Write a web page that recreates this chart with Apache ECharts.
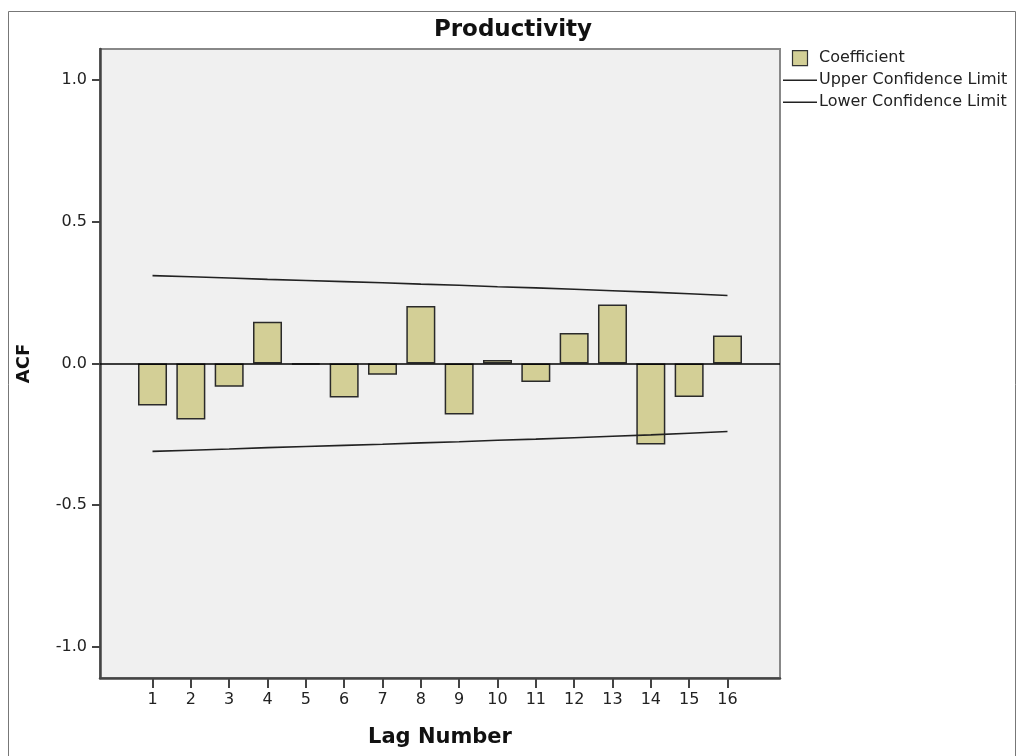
<!DOCTYPE html>
<html>
<head>
<meta charset="utf-8">
<title>Productivity ACF</title>
<script src="https://cdn.jsdelivr.net/npm/echarts@6/dist/echarts.min.js"></script>
<style>
  html, body { margin: 0; padding: 0; background: #fff; }
  #chart { width: 1026px; height: 756px; }
</style>
</head>
<body>
<div id="chart"></div>
<script>
  // lags and values
  var lags = [1, 2, 3, 4, 5, 6, 7, 8, 9, 10, 11, 12, 13, 14, 15, 16]
  var coefficient = [-0.148, -0.198, -0.082, 0.147, -0.004, -0.120, -0.040, 0.203,
                     -0.180, 0.012, -0.065, 0.108, 0.208, -0.286, -0.118, 0.099]
  var upperLimit = [0.310, 0.306, 0.302, 0.297, 0.293, 0.289, 0.285, 0.280,
                    0.276, 0.271, 0.267, 0.262, 0.257, 0.252, 0.246, 0.240]
  var lowerLimit = [-0.310, -0.306, -0.302, -0.297, -0.293, -0.289, -0.285, -0.280,
                    -0.276, -0.271, -0.267, -0.262, -0.257, -0.252, -0.246, -0.240]
  var yTicks = [-1, -0.5, 0, 0.5, 1]

  function pairs(vals) {
    return lags.map(function (k, i) { return [k, vals[i]] })
  }

  var chart = echarts.init(document.getElementById('chart'))
  var font = 'DejaVu Sans, Liberation Sans, Arial, sans-serif'

  var option = {
    backgroundColor: '#fff',
    animation: false,
    textStyle: { fontFamily: font, color: '#222' },
    title: {
      text: 'Productivity',
      left: 'center',
      top: 14,
      textStyle: { fontFamily: font, fontSize: 23, fontWeight: 'bold', color: '#111' }
    },
    // outer frame
    graphic: [{
      type: 'rect',
      left: 6, top: 9,
      shape: { width: 1007, height: 760 },
      style: { fill: 'none', stroke: '#777', lineWidth: 1 },
      silent: true
    }],
    legend: {
      orient: 'vertical',
      left: 783,
      top: 50,
      padding: 0,
      itemWidth: 34,
      itemHeight: 15,
      itemGap: 6,
      textStyle: { fontFamily: font, fontSize: 16, color: '#222', padding: [0, 0, 0, -3] },
      data: [
        { name: 'Coefficient', icon: 'path://M0,0H10V10H0Z',
          itemStyle: { color: '#d3cf96', borderColor: '#333', borderWidth: 1.2 } },
        { name: 'Upper Confidence Limit', icon: 'path://M0,0H34V1.5H0Z',
          itemStyle: { color: '#222', borderWidth: 0 } },
        { name: 'Lower Confidence Limit', icon: 'path://M0,0H34V1.5H0Z',
          itemStyle: { color: '#222', borderWidth: 0 } }
      ]
    },
    grid: {
      left: 100, right: 246, top: 49, bottom: 78,
      show: true,
      backgroundColor: '#f0f0f0',
      borderColor: '#888',
      borderWidth: 2
    },
    xAxis: {
      type: 'value',
      min: -0.37,
      max: 17.37,
      name: 'Lag Number',
      nameLocation: 'middle',
      nameGap: 49,
      nameTextStyle: { fontFamily: font, fontSize: 21, fontWeight: 'bold', color: '#111' },
      splitLine: { show: false },
      axisLine: { onZero: false, lineStyle: { color: '#444', width: 2.5 } },
      axisTick: { customValues: lags, length: 10, lineStyle: { color: '#444', width: 2 } },
      axisLabel: { customValues: lags, margin: 14, fontSize: 16, color: '#222', fontFamily: font }
    },
    yAxis: {
      type: 'value',
      min: -1.11,
      max: 1.11,
      name: 'ACF',
      nameLocation: 'middle',
      nameGap: 67,
      nameRotate: 90,
      nameTextStyle: { fontFamily: font, fontSize: 18, fontWeight: 'bold', color: '#111' },
      splitLine: { show: false },
      axisLine: { show: true, onZero: false, lineStyle: { color: '#444', width: 2.5 } },
      axisTick: { show: true, customValues: yTicks, length: 8, lineStyle: { color: '#444', width: 2 } },
      axisLabel: {
        customValues: yTicks, margin: 13, fontSize: 16, color: '#222', fontFamily: font,
        formatter: function (v) { return v.toFixed(1) }
      }
    },
    series: [
      {
        name: 'Coefficient',
        type: 'bar',
        barWidth: 29,
        itemStyle: { color: '#d3cf96', borderColor: '#2a2a2a', borderWidth: 1.5 },
        data: pairs(coefficient),
        markLine: {
          silent: true,
          symbol: 'none',
          label: { show: false },
          lineStyle: { color: '#000', width: 1.5, type: 'solid' },
          data: [{ yAxis: 0 }]
        },
        z: 3
      },
      {
        name: 'Upper Confidence Limit',
        type: 'line',
        showSymbol: false,
        symbol: 'none',
        itemStyle: { color: '#222' },
        lineStyle: { color: '#222', width: 1.6 },
        data: pairs(upperLimit),
        z: 4
      },
      {
        name: 'Lower Confidence Limit',
        type: 'line',
        showSymbol: false,
        symbol: 'none',
        itemStyle: { color: '#222' },
        lineStyle: { color: '#222', width: 1.6 },
        data: pairs(lowerLimit),
        z: 4
      }
    ]
  }
  chart.setOption(option)
</script>
</body>
</html>
